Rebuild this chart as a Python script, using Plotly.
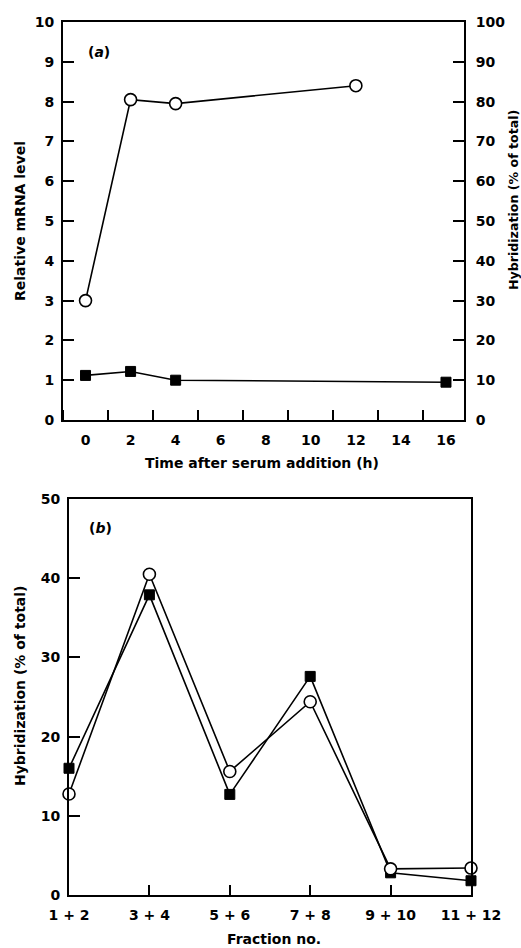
import plotly.graph_objects as go

# ---------------- data ----------------
# panel (a)
hours_mrna = [0, 2, 4, 16]
rel_mrna = [1.12, 1.22, 1.0, 0.95]          # filled squares, left axis
hours_hyb = [0, 2, 4, 12]
hyb_time = [30, 80.5, 79.5, 84]              # open circles, right axis (% of total)
x_labels_a = [0, 2, 4, 6, 8, 10, 12, 14, 16]

# panel (b)
fractions = ["1 + 2", "3 + 4", "5 + 6", "7 + 8", "9 + 10", "11 + 12"]
hyb_open = [12.75, 40.5, 15.6, 24.4, 3.3, 3.4]
hyb_filled = [16.0, 37.9, 12.7, 27.6, 2.8, 1.8]

# ---------------- layout helpers ----------------
W, H = 521, 948
def fx(px):
    return px / W
def fy(py):
    return 1 - py / H

FONT = "DejaVu Sans"
tickfont = dict(family=FONT, size=14, color="black", weight="bold")
titlefont = dict(family=FONT, size=14, color="black", weight="bold")
LW = 2

fig = go.Figure()

line_style = dict(color="black", width=1.6)
sq_marker = dict(symbol="square", size=10, color="black", line=dict(color="black", width=1))
ci_marker = dict(symbol="circle", size=12, color="white", line=dict(color="black", width=1.6))

# panel (a)
fig.add_trace(go.Scatter(x=hours_mrna, y=rel_mrna, mode="lines+markers",
                         line=line_style, marker=sq_marker, xaxis="x", yaxis="y",
                         cliponaxis=False, showlegend=False))
fig.add_trace(go.Scatter(x=hours_hyb, y=hyb_time, mode="lines+markers",
                         line=line_style, marker=ci_marker, xaxis="x", yaxis="y2",
                         cliponaxis=False, showlegend=False))
# panel (b)
fig.add_trace(go.Scatter(x=fractions, y=hyb_filled, mode="lines+markers",
                         line=line_style, marker=sq_marker, xaxis="x2", yaxis="y3",
                         cliponaxis=False, showlegend=False))
fig.add_trace(go.Scatter(x=fractions, y=hyb_open, mode="lines+markers",
                         line=line_style, marker=ci_marker, xaxis="x2", yaxis="y3",
                         cliponaxis=False, showlegend=False))

axcommon = dict(showline=True, linecolor="black", linewidth=LW, showgrid=False,
                zeroline=False, tickcolor="black", tickwidth=LW, tickfont=tickfont,
                automargin=False)

dom_a_x = [fx(63), fx(464)]
dom_a_y = [fy(420), fy(22)]
dom_b_x = [fx(69), fx(471)]
dom_b_y = [fy(895), fy(499)]

fig.update_layout(
    width=W, height=H,
    margin=dict(l=0, r=0, t=0, b=0, autoexpand=False),
    paper_bgcolor="white", plot_bgcolor="white",
    font=dict(family=FONT, color="black"),
    xaxis=dict(axcommon, domain=dom_a_x, anchor="y", range=[-1.0, 16.8],
               tickvals=x_labels_a, ticks="", mirror=True, ticklabelstandoff=6,
               minor=dict(ticks="inside", tick0=1, dtick=2, ticklen=10,
                          tickwidth=LW, tickcolor="black", showgrid=False)),
    yaxis=dict(axcommon, domain=dom_a_y, anchor="x", range=[0, 10], dtick=1,
               ticks="inside", ticklen=11, ticklabelstandoff=4),
    yaxis2=dict(axcommon, domain=dom_a_y, anchor="x", overlaying="y", side="right",
                range=[0, 100], dtick=10, ticks="inside", ticklen=11,
                ticklabelstandoff=7),
    xaxis2=dict(axcommon, domain=dom_b_x, anchor="y3", type="category",
                range=[0, 5], ticks="inside", ticklen=10, mirror=True,
                ticklabelstandoff=6),
    yaxis3=dict(axcommon, domain=dom_b_y, anchor="x2", range=[0, 50], dtick=10,
                ticks="inside", ticklen=11, mirror=True, ticklabelstandoff=4),
)

annos = [
    dict(text="(<i>a</i>)", x=fx(99), y=fy(52)),
    dict(text="(<i>b</i>)", x=fx(100), y=fy(528)),
    dict(text="Time after serum addition (h)", x=fx(262), y=fy(463)),
    dict(text="Fraction no.", x=fx(274), y=fy(939)),
    dict(text="Relative mRNA level", x=fx(20), y=fy(221), textangle=-90),
    dict(text="Hybridization (% of total)", x=fx(514), y=fy(200), textangle=-90,
         font=dict(titlefont, size=12.6)),
    dict(text="Hybridization (% of total)", x=fx(20), y=fy(686), textangle=-90),
]
for a in annos:
    a.setdefault("font", titlefont)
    fig.add_annotation(xref="paper", yref="paper", showarrow=False,
                       xanchor="center", yanchor="middle", **a)

fig.write_html("out.html")
